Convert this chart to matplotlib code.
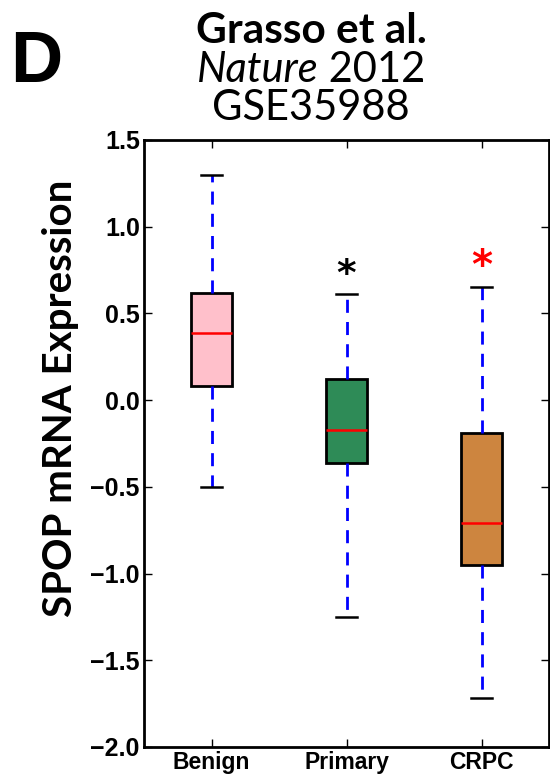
import matplotlib
matplotlib.use('Agg')
import matplotlib.pyplot as plt

# box statistics
categories = ['Benign', 'Primary', 'CRPC']
whis_lo = [-0.50, -1.25, -1.72]
q1 = [0.08, -0.36, -0.95]
median = [0.39, -0.17, -0.71]
q3 = [0.62, 0.12, -0.19]
whis_hi = [1.30, 0.61, 0.65]
box_colors = ['#FFC0CB', '#2E8B57', '#CD853F']
star_colors = [None, 'black', 'red']

W, H = 550, 783
fig = plt.figure(figsize=(W / 100, H / 100), dpi=100)
ax = fig.add_axes([144 / W, 1 - 747 / H, 405 / W, 607 / H])

stats = []
for i, c in enumerate(categories):
    stats.append(dict(label=c, whislo=whis_lo[i], q1=q1[i], med=median[i],
                      q3=q3[i], whishi=whis_hi[i], fliers=[]))

bp = ax.bxp(stats, positions=[1, 2, 3], widths=0.3, patch_artist=True,
            showfliers=False,
            boxprops=dict(edgecolor='black', linewidth=2),
            medianprops=dict(color='red', linewidth=1.8),
            whiskerprops=dict(color='blue', linestyle=(0, (4.7, 3.3)), linewidth=2),
            capprops=dict(color='black', linewidth=1.8))
for patch, col in zip(bp['boxes'], box_colors):
    patch.set_facecolor(col)

# significance stars
for i, col in enumerate(star_colors):
    if col is None:
        continue
    ax.text(i + 1, whis_hi[i] + 0.005, '*', color=col, ha='center', va='bottom',
            fontsize=27 if col == 'black' else 29, fontweight='bold',
            family='DejaVu Sans')

ax.set_xlim(0.5, 3.5)
ax.set_ylim(-2.0, 1.5)
ax.set_yticks([-2.0, -1.5, -1.0, -0.5, 0.0, 0.5, 1.0, 1.5])
ax.set_yticklabels([('%.1f' % v).replace('-', '\u2212') for v in ax.get_yticks()])
ax.set_xticks([1, 2, 3])
ax.set_xticklabels(categories)
ax.tick_params(direction='in', length=6, width=1, top=True, right=True, pad=3)
ax.tick_params(axis='y', labelsize=18)
ax.tick_params(axis='x', labelsize=16.5)
for lab in ax.get_xticklabels() + ax.get_yticklabels():
    lab.set_fontweight('bold')
    lab.set_family('Liberation Sans')
for s in ax.spines.values():
    s.set_linewidth(2)

fig.text(61 / W, 1 - 398 / H, 'SPOP mRNA Expression', rotation=90,
         ha='center', va='center', fontsize=29, fontweight='bold', family='Lato')

# panel letter and title
fig.text(10 / W, 1 - 82 / H, 'D', fontsize=52, fontweight='bold',
         family='Liberation Sans', va='baseline', ha='left')
tx = 311 / W
fig.text(tx, 1 - 43 / H, 'Grasso et al.', fontsize=30.5, fontweight='bold',
         family='Lato', ha='center', va='baseline')
t1 = fig.text(0, 1 - 82 / H, 'Nature', fontsize=30, style='italic',
              family='Lato', ha='left', va='baseline')
t2 = fig.text(0, 1 - 82 / H, ' 2012', fontsize=30,
              family='Lato', ha='left', va='baseline')
r = fig.canvas.get_renderer()
w1 = t1.get_window_extent(r).width / W
w2 = t2.get_window_extent(r).width / W
x0 = tx - (w1 + w2) / 2
t1.set_x(x0)
t2.set_x(x0 + w1)
fig.text(tx, 1 - 120 / H, 'GSE35988', fontsize=30,
         family='Lato', ha='center', va='baseline')

fig.savefig('out.png', dpi=100)
